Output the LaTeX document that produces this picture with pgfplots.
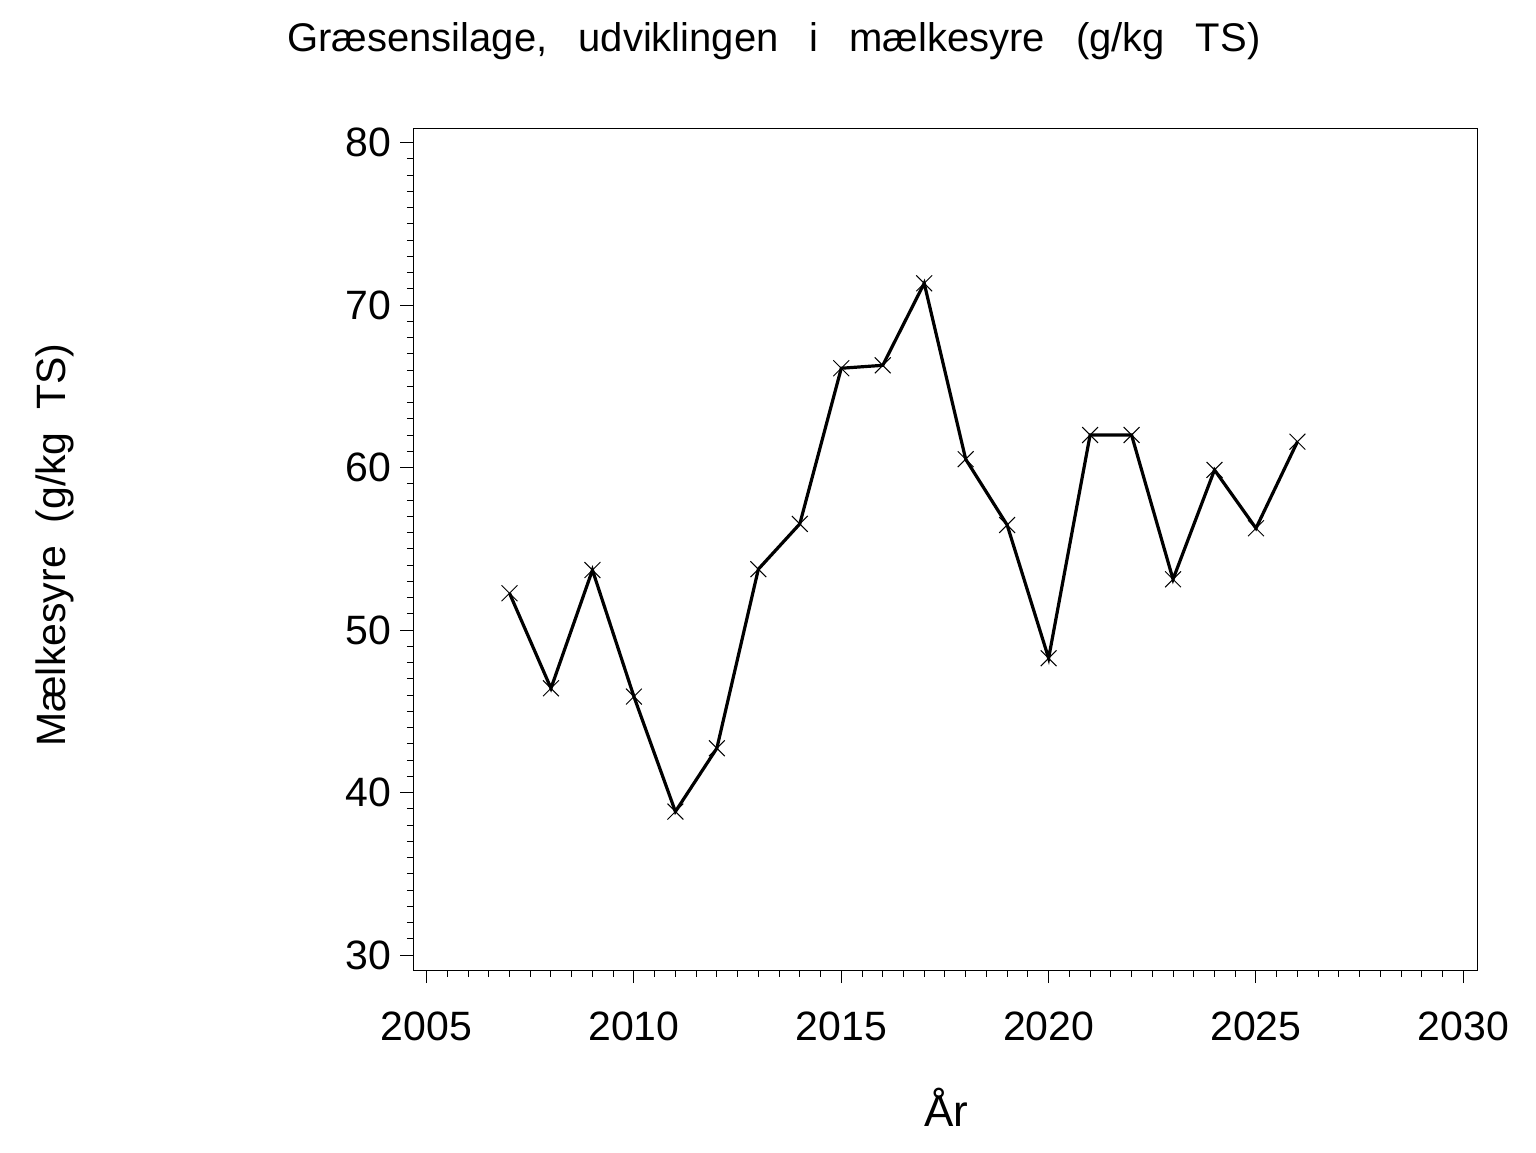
\documentclass[border=0pt]{standalone}
\usepackage{pgfplots}
\pgfplotsset{compat=1.18}
\usepackage{fontspec}
\setmainfont{Liberation Sans}
\begin{document}
\begin{tikzpicture}[x=1pt,y=1pt]
\path[use as bounding box] (0,0) rectangle (768,576);
\begin{axis}[
  at={(206.65pt,91pt)}, anchor=south west,
  scale only axis, width=531.85pt, height=420.85pt,
  xmin=2004.68, xmax=2030.33, ymin=29.08, ymax=80.89,
  xtick={2005,2010,...,2030}, ytick={30,40,...,80},
  minor x tick num=9, minor y tick num=9,
  tick align=outside, major tick length=6.5pt, minor tick length=3.25pt,
  xtick pos=left, ytick pos=left,
  axis line style={line width=0.5pt},
  every tick/.style={black, line width=0.5pt},
  /pgf/number format/assume math mode=true,
  /pgf/number format/1000 sep={},
  xticklabel style={font=\fontsize{20.5}{24}\selectfont, yshift=-11pt},
  yticklabel style={font=\fontsize{20.5}{24}\selectfont, xshift=-1pt},
]
\addplot[black, line width=1.6pt, mark=x, mark size=5.6pt, mark options={line width=0.5pt, solid}] coordinates {
(2007,52.27) (2008,46.42) (2009,53.70) (2010,45.91) (2011,38.83)
(2012,42.73) (2013,53.75) (2014,56.54) (2015,66.12) (2016,66.30)
(2017,71.35) (2018,60.52) (2019,56.47) (2020,48.27) (2021,62.01)
(2022,62.01) (2023,53.13) (2024,59.86) (2025,56.27) (2026,61.60)
};
\end{axis}
\node[anchor=base, inner sep=0pt, font=\fontsize{20}{24}\selectfont] at (387,550.2)
  {Græsensilage,\hspace{15.5pt}udviklingen\hspace{15.5pt}i\hspace{15.5pt}mælkesyre\hspace{15.5pt}(g/kg\hspace{15.5pt}TS)};
\node[anchor=base, rotate=90, inner sep=0pt, font=\fontsize{20.5}{24}\selectfont] at (32.8,303.5)
  {Mælkesyre\ \ (g/kg\ \ TS)};
\node[anchor=base, inner sep=0pt, font=\fontsize{22}{26}\selectfont] at (473,13) {År};
\end{tikzpicture}
\end{document}
